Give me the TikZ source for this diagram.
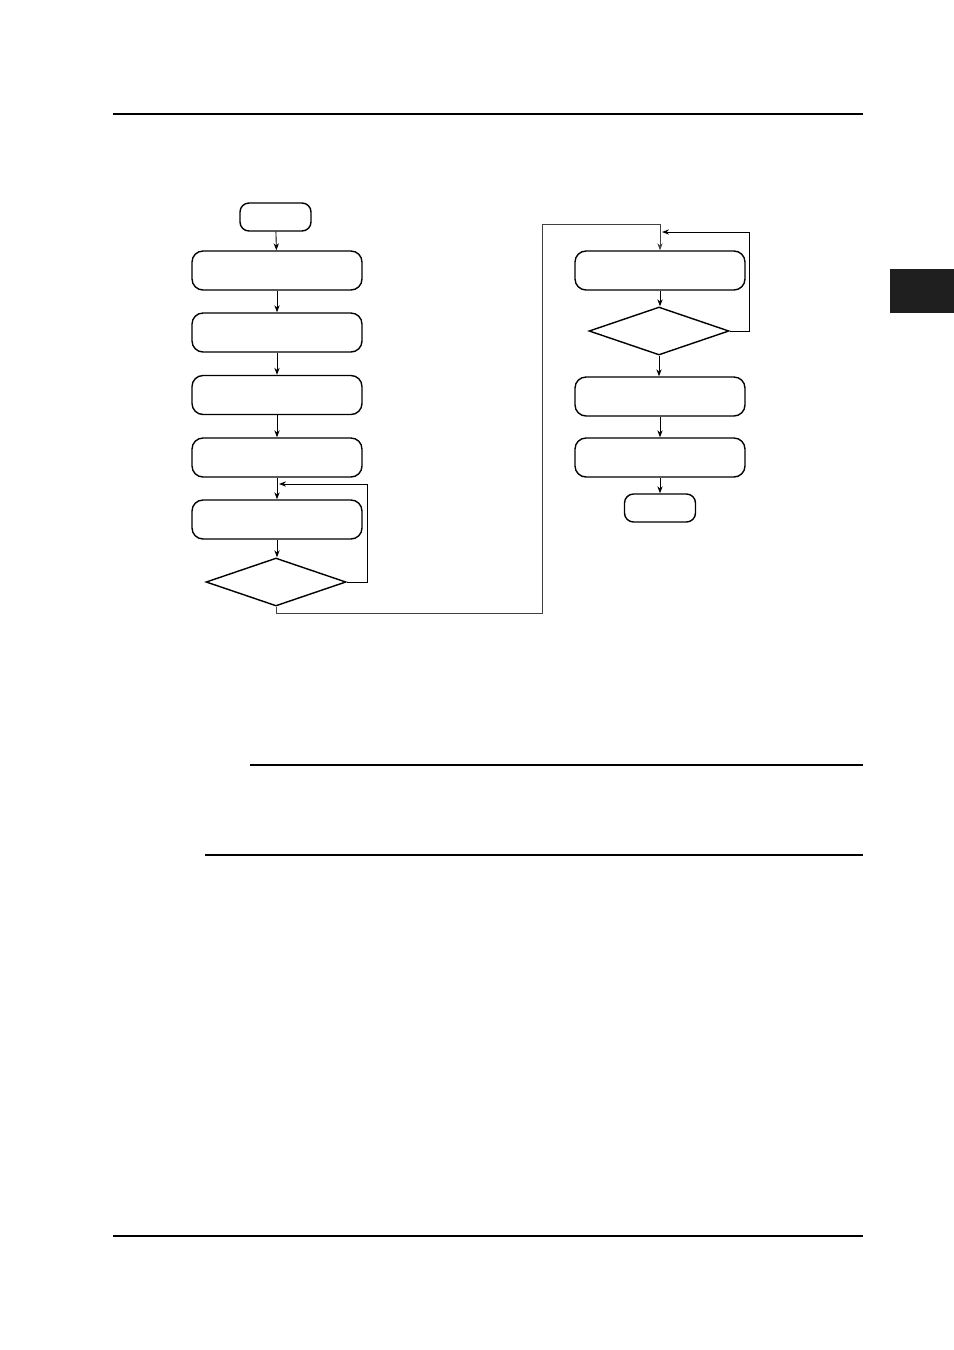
\documentclass[tikz,border=0pt]{standalone}
\usetikzlibrary{arrows.meta,shapes.geometric}

\tikzset{
  stepbox/.style={draw, rounded corners=0.22cm, minimum width=3.4cm,
    minimum height=0.78cm, inner sep=0pt, line width=0.8pt},
  termbox/.style={stepbox, minimum width=1.42cm, minimum height=0.56cm,
    rounded corners=0.18cm},
  decide/.style={draw, diamond, minimum width=2.8cm, minimum height=0.96cm,
    inner sep=0pt, line width=0.8pt},
  flow/.style={line width=0.5pt, -{Stealth[length=4pt, width=3pt]}},
  pagerule/.style={line width=0.6pt},
  boldrule/.style={line width=1.2pt}
}

\begin{document}
\begin{tikzpicture}[x=0.02cm, y=-0.02cm]

\useasboundingbox (0,0) rectangle (954,1350);

% page rules and tab
\draw[pagerule] (113,114)  -- (863,114);
\draw[pagerule] (113,1236) -- (863,1236);
\draw[boldrule] (250,765)  -- (863,765);
\draw[boldrule] (205,855)  -- (863,855);
\fill[black!88] (890,269) rectangle (954,313);

% left column
\node[termbox] (start) at (275.5,217)   {};
\node[stepbox] (b1)    at (277,270.5)   {};
\node[stepbox] (b2)    at (277,332.5)   {};
\node[stepbox] (b3)    at (277,395)     {};
\node[stepbox] (b4)    at (277,457.5)   {};
\node[stepbox] (b5)    at (277,519.5)   {};
\node[decide]  (d1)    at (276,582)     {};

% right column
\node[stepbox] (b6)    at (660,270.5)   {};
\node[decide]  (d2)    at (659,331)     {};
\node[stepbox] (b7)    at (660,396.5)   {};
\node[stepbox] (b8)    at (660,457.5)   {};
\node[termbox] (stop)  at (660,508)     {};

\coordinate (j1) at (279,484);
\coordinate (j2) at (662,232);

\draw[flow] (start) -- (b1);
\draw[flow] (b1) -- (b2);
\draw[flow] (b2) -- (b3);
\draw[flow] (b3) -- (b4);
\draw[flow] (b4) -- (b5);
\draw[flow] (b5.south) -- (b5.south |- d1.north);
\draw[flow] (d1.east) -- ++(21,0) |- (j1);

\draw[flow, black!75] (d1.south) -- ++(0,7) -| (542,224) -| (b6.north);

\draw[flow] (b6.south) -- (b6.south |- d2.north);
\draw[flow] (d2.east) -- ++(20,0) |- (j2);
\draw[flow] (d2.south) -- (d2.south |- b7.north);
\draw[flow] (b7) -- (b8);
\draw[flow] (b8) -- (stop);

\end{tikzpicture}
\end{document}
